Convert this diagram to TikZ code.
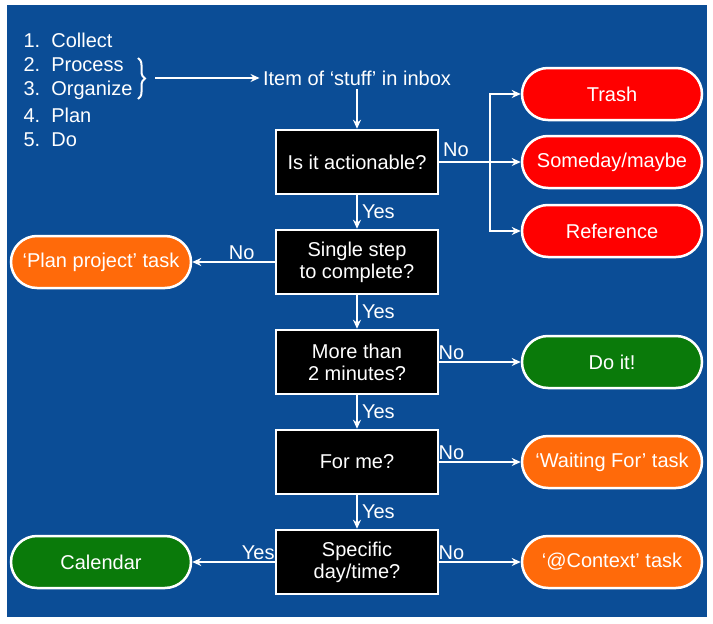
\documentclass[tikz,border=0pt]{standalone}
\usepackage{fontspec}
\setmainfont{Liberation Sans}
\usetikzlibrary{arrows.meta, positioning, decorations.pathreplacing}
\definecolor{bg}{HTML}{0B4D96}
\definecolor{rd}{HTML}{FF0000}
\definecolor{og}{HTML}{FF6A0A}
\definecolor{gr}{HTML}{0A7A0A}
\begin{document}
\begin{tikzpicture}
[x=1pt, y=-1pt, every node/.style={font=\fontsize{20}{22}\selectfont, text=white},
 box/.style={draw=white, line width=2.5pt, fill=black, minimum width=162pt, minimum height=64pt, align=center, inner sep=0pt},
 pill/.style={draw=white, line width=2.5pt, rounded corners=26pt, minimum width=180pt, minimum height=52pt, inner sep=0pt},
 ->/.style={draw=white, line width=2pt, arrows={-Stealth[length=9pt, width=8pt]}},
 lbl/.style={inner sep=1pt}]
\useasboundingbox (0,0) rectangle (713,624);
\fill[bg] (7,5) rectangle (707,617);
\node[anchor=west] (l1) at (20,40) {1.\ \ Collect};
\node[anchor=west] (l2) at (20,65) {2.\ \ Process};
\node[anchor=west] (l3) at (20,90) {3.\ \ Organize};
\node[anchor=west] (l4) at (20,115) {4.\ \ Plan};
\node[anchor=west] (l5) at (20,140) {5.\ \ Do};
\draw[white, line width=2pt, decorate, decoration={brace, amplitude=7pt}] (138,58) -- (138,99);
\coordinate (br) at (155,78);
\node (inbox) at (357,78) {Item of ‘stuff’ in inbox};
\draw[->] (br) -- (inbox);
\node[box] (q1) at (357,162) {Is it actionable?};
\node[box] (q2) at (357,262) {Single step\\to complete?};
\node[box] (q3) at (357,362) {More than\\2 minutes?};
\node[box] (q4) at (357,462) {For me?};
\node[box] (q5) at (357,562) {Specific\\day/time?};
\node[pill, fill=rd] (trash) at (612,94) {Trash};
\node[pill, fill=rd] (some) at (612,162) {Someday/maybe};
\node[pill, fill=rd] (ref) at (612,231) {Reference};
\node[pill, fill=og] (plan) at (101,262) {‘Plan project’ task};
\node[pill, fill=gr] (doit) at (612,362) {Do it!};
\node[pill, fill=og] (wait) at (612,462) {‘Waiting For’ task};
\node[pill, fill=gr] (cal) at (101,562) {Calendar};
\node[pill, fill=og] (ctx) at (612,562) {‘@Context’ task};
\draw[->] (inbox) -- (q1);
\draw[->] (q1) -- node[lbl, right=3pt] {Yes} (q2);
\draw[->] (q2) -- node[lbl, right=3pt] {Yes} (q3);
\draw[->] (q3) -- node[lbl, right=3pt] {Yes} (q4);
\draw[->] (q4) -- node[lbl, right=3pt] {Yes} (q5);
\coordinate (fork) at (490,162);
\draw[white, line width=2pt] (q1) -- (fork);
\node[lbl] at (456,150) {No};
\draw[->] (fork) |- (trash);
\draw[->] (fork) -- (some);
\draw[->] (fork) |- (ref);
\draw[->] (q2) -- node[lbl, above, pos=0.4] {No} (plan);
\draw[->] (q3) -- node[lbl, above, pos=0.15] {No} (doit);
\draw[->] (q4) -- node[lbl, above, pos=0.15] {No} (wait);
\draw[->] (q5) -- node[lbl, above, pos=0.15] {No} (ctx);
\draw[->] (q5) -- node[lbl, above, pos=0.2] {Yes} (cal);
\end{tikzpicture}
\end{document}
